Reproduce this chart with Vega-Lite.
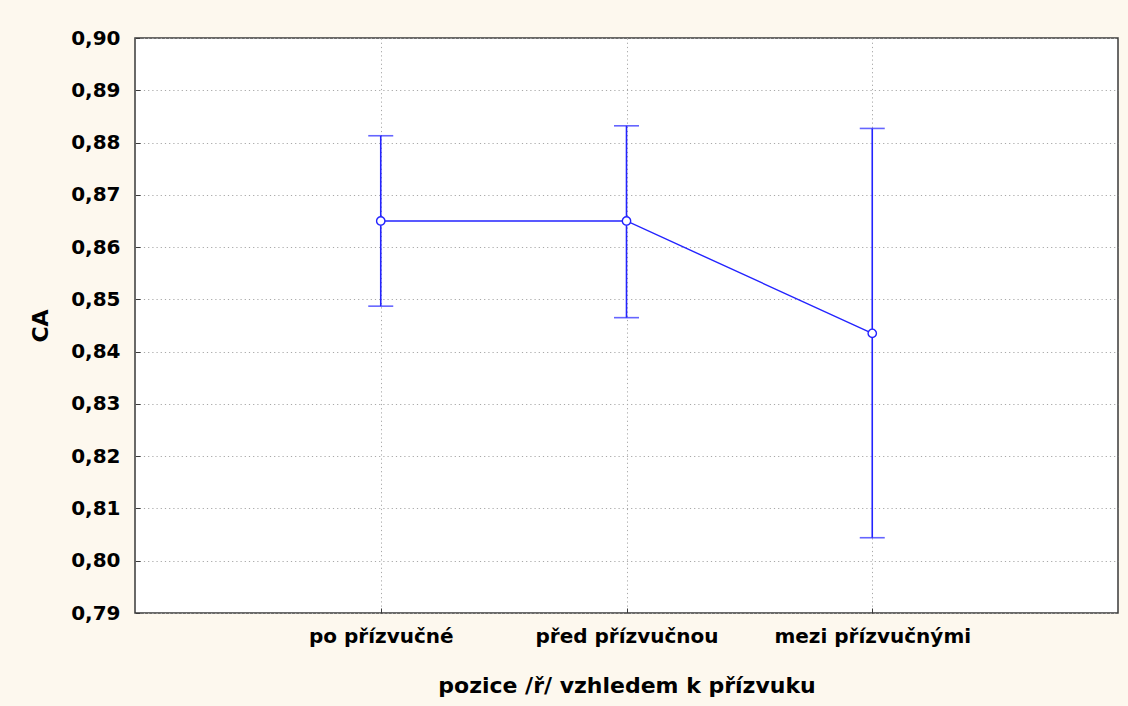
{
  "$schema": "https://vega.github.io/schema/vega-lite/v6.json",
  "autosize": "none",
  "width": 983,
  "height": 575,
  "padding": {"left": 135, "top": 38, "right": 10, "bottom": 93},
  "background": "#fdf8ee",
  "config": {
    "view": {"fill": "#ffffff", "stroke": "#3a3a3a", "strokeWidth": 1.5},
    "font": "DejaVu Sans",
    "axis": {
      "labelFont": "DejaVu Sans",
      "titleFont": "DejaVu Sans",
      "labelFontWeight": "bold",
      "titleFontWeight": "bold",
      "labelColor": "#000000",
      "titleColor": "#000000",
      "labelLimit": 0,
      "labelOverlap": false,
      "domain": false,
      "gridColor": "#a8a8a8",
      "gridDash": [1.2, 3],
      "gridWidth": 1,
      "tickColor": "#3a3a3a"
    }
  },
  "data": {
    "values": [
      {"pozice": "po přízvučné", "mean": 0.865, "lower": 0.8487, "upper": 0.8813},
      {"pozice": "před přízvučnou", "mean": 0.865, "lower": 0.8465, "upper": 0.8832},
      {"pozice": "mezi přízvučnými", "mean": 0.8435, "lower": 0.8044, "upper": 0.8827}
    ]
  },
  "encoding": {
    "x": {
      "field": "pozice",
      "type": "nominal",
      "sort": null,
      "scale": {"type": "point", "padding": 1},
      "axis": {
        "title": "pozice /ř/ vzhledem k přízvuku",
        "labelAngle": 0,
        "labelFontSize": 20,
        "titleFontSize": 22,
        "labelPadding": 18,
        "titlePadding": 29,
        "tickSize": -5,
        "grid": true
      }
    }
  },
  "layer": [
    {
      "mark": {"type": "rule", "color": "#2323ff", "strokeWidth": 1.6},
      "encoding": {
        "y": {
          "field": "lower",
          "type": "quantitative",
          "scale": {"domain": [0.79, 0.9], "nice": false, "zero": false},
          "axis": {
            "title": "CA",
            "values": [0.79, 0.8, 0.81, 0.82, 0.83, 0.84, 0.85, 0.86, 0.87, 0.88, 0.89, 0.9],
            "labelExpr": "replace(format(datum.value, '.2f'), '.', ',')",
            "labelFontSize": 20,
            "titleFontSize": 22,
            "labelPadding": 20,
            "titlePadding": 18,
            "tickSize": -5,
            "grid": true
          }
        },
        "y2": {"field": "upper"}
      }
    },
    {
      "mark": {"type": "tick", "color": "#2323ff", "orient": "horizontal", "size": 25, "thickness": 1.6},
      "encoding": {"y": {"field": "lower", "type": "quantitative"}}
    },
    {
      "mark": {"type": "tick", "color": "#2323ff", "orient": "horizontal", "size": 25, "thickness": 1.6},
      "encoding": {"y": {"field": "upper", "type": "quantitative"}}
    },
    {
      "mark": {"type": "line", "color": "#2323ff", "strokeWidth": 1.4},
      "encoding": {"y": {"field": "mean", "type": "quantitative"}}
    },
    {
      "mark": {"type": "point", "shape": "circle", "filled": true, "fill": "#ffffff", "stroke": "#2323ff", "strokeWidth": 1.4, "size": 70, "opacity": 1},
      "encoding": {"y": {"field": "mean", "type": "quantitative"}}
    }
  ]
}
